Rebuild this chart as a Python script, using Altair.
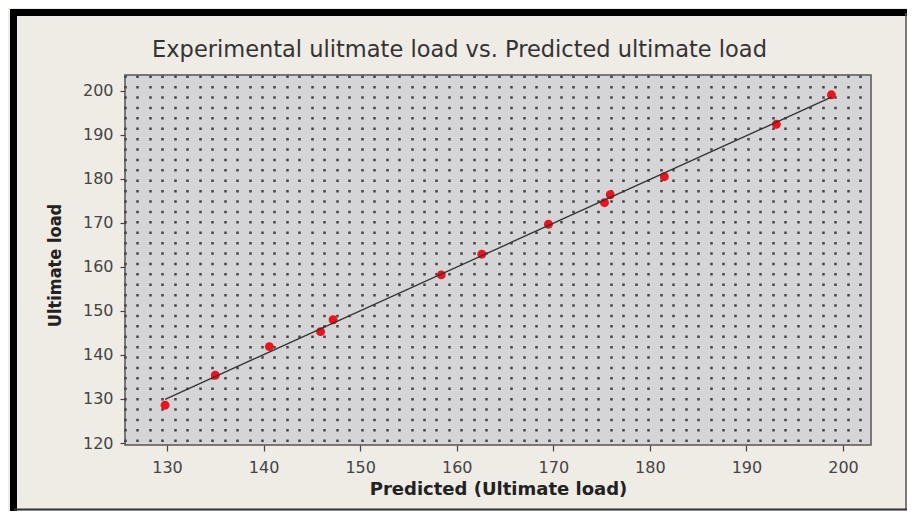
import altair as alt
import pandas as pd

# Data
predicted = [129.8, 135.0, 140.6, 145.9, 147.2, 158.4, 162.6, 169.5, 175.3, 175.9, 181.5, 193.1, 198.8]
ultimate = [128.6, 135.4, 141.9, 145.3, 148.0, 158.2, 162.9, 169.7, 174.6, 176.4, 180.5, 192.4, 199.1]
x_ticks = [130, 140, 150, 160, 170, 180, 190, 200]
y_ticks = [120, 130, 140, 150, 160, 170, 180, 190, 200]

df = pd.DataFrame({"Predicted": predicted, "Ultimate": ultimate})

XMIN, XMAX = 125.65, 202.9
YMIN, YMAX = 119.55, 203.6
grid_vals = []
v = XMIN
while v <= XMAX + 0.01:
    grid_vals.append(round(v, 3))
    v += 1.29

FONT = "DejaVu Sans"

xscale = alt.Scale(domain=[XMIN, XMAX], nice=False, zero=False)
yscale = alt.Scale(domain=[YMIN, YMAX], nice=False, zero=False)

base = alt.Chart(df)

points = base.mark_circle(size=80, color="#E8141E", opacity=1).encode(
    x=alt.X("Predicted:Q", scale=xscale,
            axis=alt.Axis(values=x_ticks, grid=False, domain=False, tickSize=6, tickColor="#444",
                          tickWidth=1.2, labelFont=FONT, labelFontSize=16, labelColor="#444",
                          labelPadding=8, title="Predicted (Ultimate load)", titleFont=FONT,
                          titleFontSize=18, titleFontWeight="bold", titleColor="#222",
                          titlePadding=5)),
    y=alt.Y("Ultimate:Q", scale=yscale,
            axis=alt.Axis(values=y_ticks, grid=False, domain=False, tickSize=5, tickColor="#444",
                          tickWidth=1.2, labelFont=FONT, labelFontSize=16, labelColor="#444",
                          labelPadding=7, title="Ultimate load", titleFont="DejaVu Sans Condensed",
                          titleFontSize=18, titleFontWeight="bold", titleColor="#222",
                          titlePadding=18, titleY=190)),
)

line = base.transform_regression("Predicted", "Ultimate").mark_line(
    color="#333", strokeWidth=1.3
).encode(
    x=alt.X("Predicted:Q", scale=xscale,
            axis=alt.Axis(orient="bottom", values=grid_vals, grid=True, gridDash=[2.5, 7.9],
                          gridWidth=2.5, gridColor="#444", gridOpacity=1, labels=False,
                          ticks=False, domain=False, title=None)),
    y=alt.Y("Ultimate:Q", scale=yscale),
)

one = alt.Data(values=[{}])
frame_top = alt.Chart(one).mark_rule(color="#000", strokeWidth=7).encode(
    x=alt.value(-115), x2=alt.value(790), y=alt.value(-62.5))
frame_left = alt.Chart(one).mark_rule(color="#000", strokeWidth=7).encode(
    x=alt.value(-111.5), y=alt.value(-66), y2=alt.value(436))
frame_right = alt.Chart(one).mark_rule(color="#555", strokeWidth=1.5).encode(
    x=alt.value(781), y=alt.value(-62), y2=alt.value(435))
frame_bottom = alt.Chart(one).mark_rule(color="#333", strokeWidth=2).encode(
    x=alt.value(-111), x2=alt.value(782), y=alt.value(434.5))

chart = alt.layer(
    points, line, frame_top, frame_left, frame_right, frame_bottom
).resolve_axis(x="independent").properties(
    width=746, height=370,
    title=alt.TitleParams("Experimental ulitmate load vs. Predicted ultimate load",
                          font=FONT, fontSize=22.5, fontWeight="normal", color="#333",
                          anchor="middle", frame="bounds", offset=0, dy=74, dx=-3,
                          baseline="alphabetic"),
    autosize=alt.AutoSizeParams(type="none"),
    padding={"left": 117, "top": 67, "right": 36, "bottom": 66},
    background="#EFEBE5",
).configure_view(
    fill="#D5D5D7", stroke="#555", strokeWidth=1.5
)

chart.save("out.html", embed_options={"renderer": "svg", "actions": False})
